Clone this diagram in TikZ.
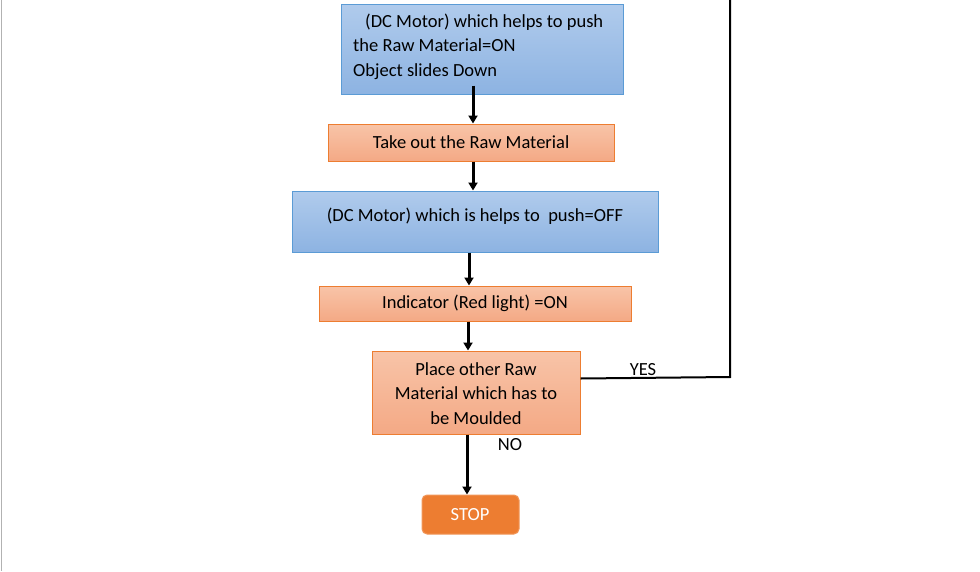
\documentclass[tikz,border=0pt]{standalone}
\usepackage{fontspec}
\setmainfont{Carlito}
\usetikzlibrary{arrows.meta,positioning}
\definecolor{bluetop}{HTML}{B0CBEC}
\definecolor{bluebot}{HTML}{8DB3E2}
\definecolor{blueline}{HTML}{5B9BD5}
\definecolor{ortop}{HTML}{F8C4A8}
\definecolor{orbot}{HTML}{F4A985}
\definecolor{orline}{HTML}{ED7D31}
\definecolor{stopfill}{HTML}{ED7D31}
\tikzset{
  bluebox/.style={draw=blueline, line width=1pt, top color=bluetop, bottom color=bluebot, inner sep=0pt},
  orbox/.style={draw=orline, line width=1pt, top color=ortop, bottom color=orbot, inner sep=0pt},
  txt/.style={font=\fontsize{18.5}{24.5}\selectfont, inner sep=0pt, text=black},
  flow/.style={line width=3pt, -{Triangle[width=9pt,length=8pt]}},
  loopline/.style={line width=2pt},
}
\begin{document}
\begin{tikzpicture}[x=1pt,y=-1pt]
\useasboundingbox (0,0) rectangle (980,571);
\fill[white] (0,0) rectangle (980,571);
\draw[gray!60, line width=1pt] (1,0) -- (1,571);

% boxes
\node[bluebox, minimum width=282pt, minimum height=90pt] (b1) at (482,49) {};
\node[txt, anchor=west, align=left] (t1) at (353,46.5) {\hspace*{12pt}(DC Motor) which helps to push\\the Raw Material=ON\\Object slides Down};

\node[orbox, minimum width=286pt, minimum height=37pt] (b2) at (471,142.5) {};
\node[txt] (t2) at (471,142.5) {Take out the Raw Material};

\node[bluebox, minimum width=366pt, minimum height=61pt] (b3) at (475,221.5) {};
\node[txt] (t3) at (475,216.5) {(DC Motor) which is helps to \ push=OFF};

\node[orbox, minimum width=312pt, minimum height=35pt] (b4) at (475,303.5) {};
\node[txt] (t4) at (475,303.5) {Indicator (Red light) =ON};

\node[orbox, minimum width=208pt, minimum height=83pt] (b5) at (476,392.5) {};
\node[txt, align=center] (t5) at (476,393.5) {Place other Raw\\Material which has to\\be Moulded};

\node[fill=stopfill, draw=stopfill!80!white, line width=1pt, rounded corners=5pt, minimum width=97pt, minimum height=39pt, inner sep=0pt] (stop) at (470.5,514.5) {};
\node[txt, text=white] (t6) at (470,515) {STOP};

% connectors
\draw[flow] ([xshift=-9pt,yshift=9pt]b1.south) -- ([xshift=2pt]b2.north);
\draw[flow] ([xshift=2pt]b2.south) -- ([xshift=-2pt]b3.north);
\draw[flow] ([xshift=-6pt]b3.south) -- ([xshift=-6pt]b4.north);
\draw[flow] ([xshift=-7pt]b4.south) -- ([xshift=-8pt]b5.north);
\draw[flow] ([xshift=-9pt]b5.south) -- ([xshift=-3.5pt]stop.north);

\coordinate (c1) at (730,377);
\coordinate (c2) at (730,0);
\draw[loopline] ([yshift=14pt]b5.east) -- (c1) -- (c2);

\node[txt] (yes) at (643,370) {YES};
\node[txt] (no) at (510,445) {NO};
\end{tikzpicture}
\end{document}
